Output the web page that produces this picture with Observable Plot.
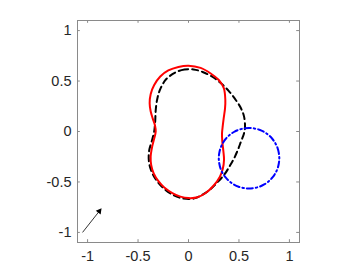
<!DOCTYPE html>
<html>
<head>
<meta charset="utf-8">
<script src="https://cdn.jsdelivr.net/npm/d3@7"></script>
<script src="https://cdn.jsdelivr.net/npm/@observablehq/plot@0.6"></script>
<style>
  html, body { margin: 0; padding: 0; background: #fff; }
  #chart svg { display: block; }
</style>
</head>
<body>
<div id="chart"></div>
<script>
// Tick values
const xTicks = [-1, -0.5, 0, 0.5, 1];
const yTicks = [-1, -0.5, 0, 0.5, 1];
const xDomain = [-1.1, 1.1];
const yDomain = [-1.1, 1.1];

// Red solid peanut-shaped curve [x, y]
const redPts = [
  [0.00, 0.652], [-0.10, 0.640], [-0.20, 0.605], [-0.28, 0.545], [-0.34, 0.460],
  [-0.375, 0.370], [-0.385, 0.280], [-0.375, 0.200], [-0.355, 0.130], [-0.332, 0.060],
  [-0.325, 0.000], [-0.340, -0.070], [-0.360, -0.150], [-0.375, -0.250], [-0.370, -0.330],
  [-0.345, -0.415], [-0.300, -0.490], [-0.240, -0.555], [-0.160, -0.610], [-0.080, -0.645],
  [0.00, -0.660], [0.09, -0.652], [0.17, -0.610], [0.25, -0.535], [0.31, -0.450],
  [0.340, -0.370], [0.352, -0.280], [0.345, -0.190], [0.335, -0.100], [0.332, -0.020],
  [0.340, 0.060], [0.350, 0.140], [0.362, 0.230], [0.365, 0.310], [0.350, 0.430],
  [0.300, 0.510], [0.220, 0.575], [0.120, 0.630]
];

// Black dashed curve [x, y]
const blackPts = [
  [0.05, 0.615], [-0.04, 0.615], [-0.12, 0.590], [-0.22, 0.520], [-0.28, 0.420],
  [-0.31, 0.320], [-0.325, 0.210], [-0.33, 0.100], [-0.34, 0.000], [-0.365, -0.100],
  [-0.39, -0.190], [-0.392, -0.300], [-0.365, -0.400], [-0.32, -0.480], [-0.25, -0.560],
  [-0.16, -0.625], [-0.05, -0.665], [0.05, -0.665], [0.14, -0.625], [0.22, -0.570],
  [0.29, -0.500], [0.36, -0.420], [0.41, -0.340], [0.45, -0.270], [0.49, -0.180],
  [0.52, -0.100], [0.55, -0.020], [0.56, 0.050], [0.55, 0.150], [0.52, 0.230],
  [0.47, 0.310], [0.40, 0.400], [0.33, 0.470], [0.24, 0.540], [0.14, 0.590]
];

// Blue dash-dot circle [x, y]
const bluePts = [
  [0.900, -0.265], [0.895, -0.213], [0.882, -0.162], [0.860, -0.115], [0.830, -0.072],
  [0.793, -0.035], [0.750, -0.005], [0.703, 0.017], [0.652, 0.030], [0.600, 0.035],
  [0.548, 0.030], [0.497, 0.017], [0.450, -0.005], [0.407, -0.035], [0.370, -0.072],
  [0.340, -0.115], [0.318, -0.162], [0.305, -0.213], [0.300, -0.265], [0.305, -0.317],
  [0.318, -0.368], [0.340, -0.415], [0.370, -0.458], [0.407, -0.495], [0.450, -0.525],
  [0.497, -0.547], [0.548, -0.560], [0.600, -0.565], [0.652, -0.560], [0.703, -0.547],
  [0.750, -0.525], [0.793, -0.495], [0.830, -0.458], [0.860, -0.415], [0.882, -0.368],
  [0.895, -0.317]
];

// Arrow (tail and tip)
const arrowTail = [-1.05, -1.00];
const arrowTip = [-0.862, -0.762];

// Arrowhead geometry derived from the arrow data
const adx = arrowTip[0] - arrowTail[0], ady = arrowTip[1] - arrowTail[1];
const alen = Math.hypot(adx, ady);
const ux = adx / alen, uy = ady / alen;
const headBack = 0.035;
const headCenter = [arrowTip[0] - ux * headBack, arrowTip[1] - uy * headBack];
const headAngle = Math.atan2(adx, ady) * 180 / Math.PI;
const shaft = [{x1: arrowTail[0], y1: arrowTail[1], x2: headCenter[0], y2: headCenter[1]}];
const head = [{x: headCenter[0], y: headCenter[1]}];

const tickLen = 0.028;
const axisColor = "#8a8a8a";
const textColor = "#262626";

const chart = Plot.plot({
  width: 364,
  height: 273,
  marginLeft: 77,
  marginRight: 65,
  marginTop: 20,
  marginBottom: 31,
  style: {fontFamily: "'Liberation Sans', Arial, Helvetica, sans-serif", fontSize: "14.5px", background: "#fff"},
  x: {domain: xDomain, label: null},
  y: {domain: yDomain, label: null},
  marks: [
    // inward tick marks on all four sides
    Plot.ruleX(xTicks, {x: d => d, y1: yDomain[0], y2: yDomain[0] + tickLen, stroke: axisColor}),
    Plot.ruleX(xTicks, {x: d => d, y1: yDomain[1], y2: yDomain[1] - tickLen, stroke: axisColor}),
    Plot.ruleY(yTicks, {y: d => d, x1: xDomain[0], x2: xDomain[0] + tickLen, stroke: axisColor}),
    Plot.ruleY(yTicks, {y: d => d, x1: xDomain[1], x2: xDomain[1] - tickLen, stroke: axisColor}),
    Plot.frame({stroke: axisColor}),
    Plot.axisX({ticks: xTicks, tickSize: 0, tickPadding: 8, tickFormat: d => String(d), fill: textColor, label: null}),
    Plot.axisY({ticks: yTicks, tickSize: 0, tickPadding: 6, tickFormat: d => String(d), fill: textColor, label: null}),
    // curves
    Plot.line(blackPts, {x: d => d[0], y: d => d[1], curve: "catmull-rom-closed", stroke: "#000", strokeWidth: 2, strokeDasharray: "6,4"}),
    Plot.line(redPts, {x: d => d[0], y: d => d[1], curve: "catmull-rom-closed", stroke: "#ff0000", strokeWidth: 2}),
    Plot.line(bluePts, {x: d => d[0], y: d => d[1], curve: "catmull-rom-closed", stroke: "#0000ff", strokeWidth: 2, strokeDasharray: "6,3,1.5,3"}),
    // arrow
    Plot.link(shaft, {x1: "x1", y1: "y1", x2: "x2", y2: "y2", stroke: "#000", strokeWidth: 0.8}),
    Plot.dot(head, {x: "x", y: "y", symbol: "triangle", r: 2.3, fill: "#000", stroke: "none", rotate: headAngle})
  ]
});
document.getElementById("chart").appendChild(chart);
</script>
</body>
</html>
